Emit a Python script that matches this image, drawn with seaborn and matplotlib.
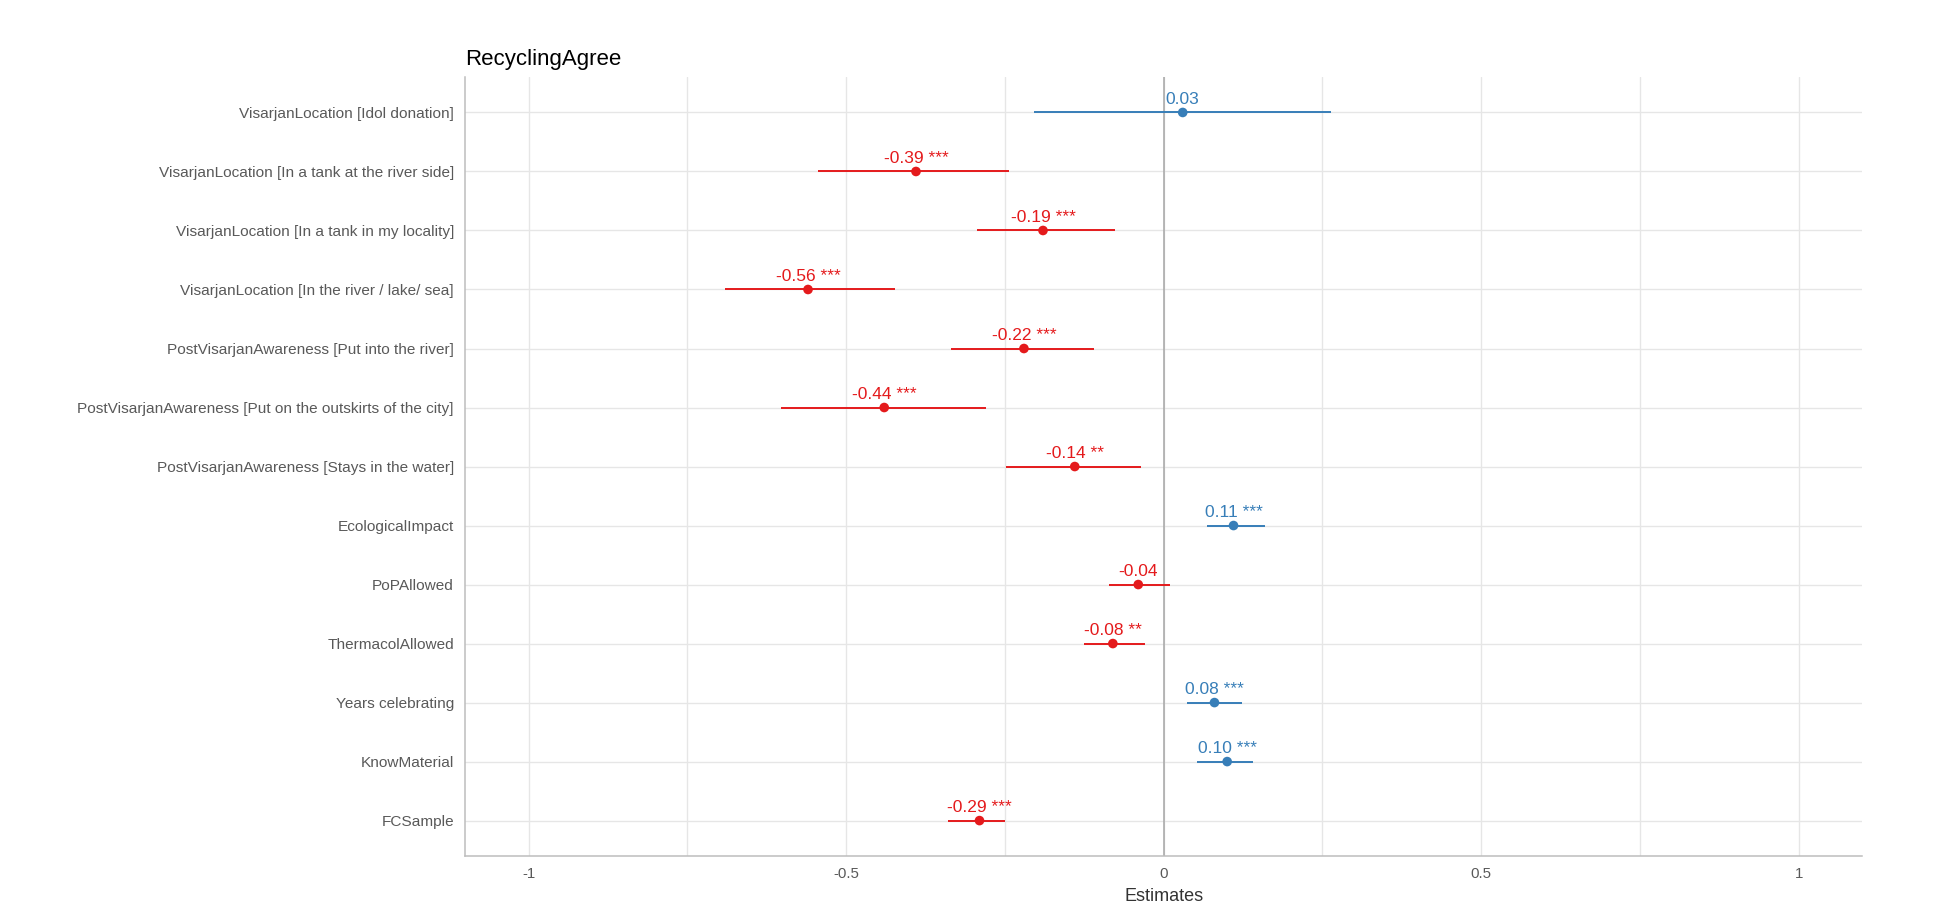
import numpy as np
import pandas as pd
import matplotlib.pyplot as plt
import seaborn as sns

# model terms, top to bottom
terms = [
    "VisarjanLocation [Idol donation]",
    "VisarjanLocation [In a tank at the river side]",
    "VisarjanLocation [In a tank in my locality]",
    "VisarjanLocation [In the river / lake/ sea]",
    "PostVisarjanAwareness [Put into the river]",
    "PostVisarjanAwareness [Put on the outskirts of the city]",
    "PostVisarjanAwareness [Stays in the water]",
    "EcologicalImpact",
    "PoPAllowed",
    "ThermacolAllowed",
    "Years celebrating",
    "KnowMaterial",
    "FCSample",
]
estimates = [0.03, -0.39, -0.19, -0.56, -0.22, -0.44, -0.14, 0.11, -0.04, -0.08, 0.08, 0.10, -0.29]
ci_low = [-0.204, -0.545, -0.294, -0.690, -0.335, -0.603, -0.249, 0.069, -0.086, -0.125, 0.037, 0.053, -0.339]
ci_high = [0.264, -0.243, -0.076, -0.423, -0.110, -0.280, -0.035, 0.159, 0.010, -0.030, 0.123, 0.141, -0.250]
stars = ["", "***", "***", "***", "***", "***", "**", "***", "", "**", "***", "***", "***"]

df = pd.DataFrame({"term": terms, "est": estimates, "lo": ci_low, "hi": ci_high, "stars": stars})
df["pos"] = np.arange(len(df))
df["sign"] = np.where(df["est"] > 0, "pos", "neg")
df["label"] = [f"{e:.2f} {s}".strip() for e, s in zip(df["est"], df["stars"])]

palette = {"pos": "#377eb8", "neg": "#e41a1c"}

sns.set_theme(style="whitegrid")
plt.rcParams['font.family'] = ['Liberation Sans', 'DejaVu Sans']

fig = plt.figure(figsize=(19.5, 9.24), dpi=100)
ax = fig.add_axes([0.2385, 0.0736, 0.7165, 0.843])

# confidence intervals
ax.hlines(df["pos"], df["lo"], df["hi"], colors=df["sign"].map(palette), lw=1.4, zorder=2)
sns.scatterplot(data=df, x="est", y="pos", hue="sign", palette=palette, s=48,
                linewidth=0, legend=False, ax=ax, zorder=3)

for _, r in df.iterrows():
    ax.text(r["est"], r["pos"] - 0.09, r["label"], ha="center", va="bottom",
            color=palette[r["sign"]], fontsize=12.5)

ax.axvline(0, color="#a6a6a6", lw=1.1, zorder=1)

ax.set_xlim(-1.1, 1.1)
ax.set_ylim(len(df) - 0.4, -0.6)
ax.set_xticks([-1, -0.5, 0, 0.5, 1])
ax.set_xticklabels(["-1", "-0.5", "0", "0.5", "1"])
ax.set_xticks([-0.75, -0.25, 0.25, 0.75], minor=True)
ax.set_yticks(df["pos"])
ax.set_yticklabels(df["term"])

ax.grid(True, which="both", color="#e6e6e6", lw=1.0)
ax.set_axisbelow(True)
ax.tick_params(axis="y", which="both", length=0, labelsize=11.1, labelcolor="#595959", pad=8)
ax.tick_params(axis="x", which="both", length=0, labelsize=10.8, labelcolor="#595959", pad=8)

for side in ["top", "right"]:
    ax.spines[side].set_visible(False)
for side in ["left", "bottom"]:
    ax.spines[side].set_color("#bdbdbd")
    ax.spines[side].set_linewidth(1.1)

ax.set_xlabel("Estimates", fontsize=13, color="#333333", labelpad=5)
ax.set_ylabel("")
ax.set_title("RecyclingAgree", loc="left", fontsize=16, color="black", pad=9)

fig.savefig("out.png", dpi=100)
